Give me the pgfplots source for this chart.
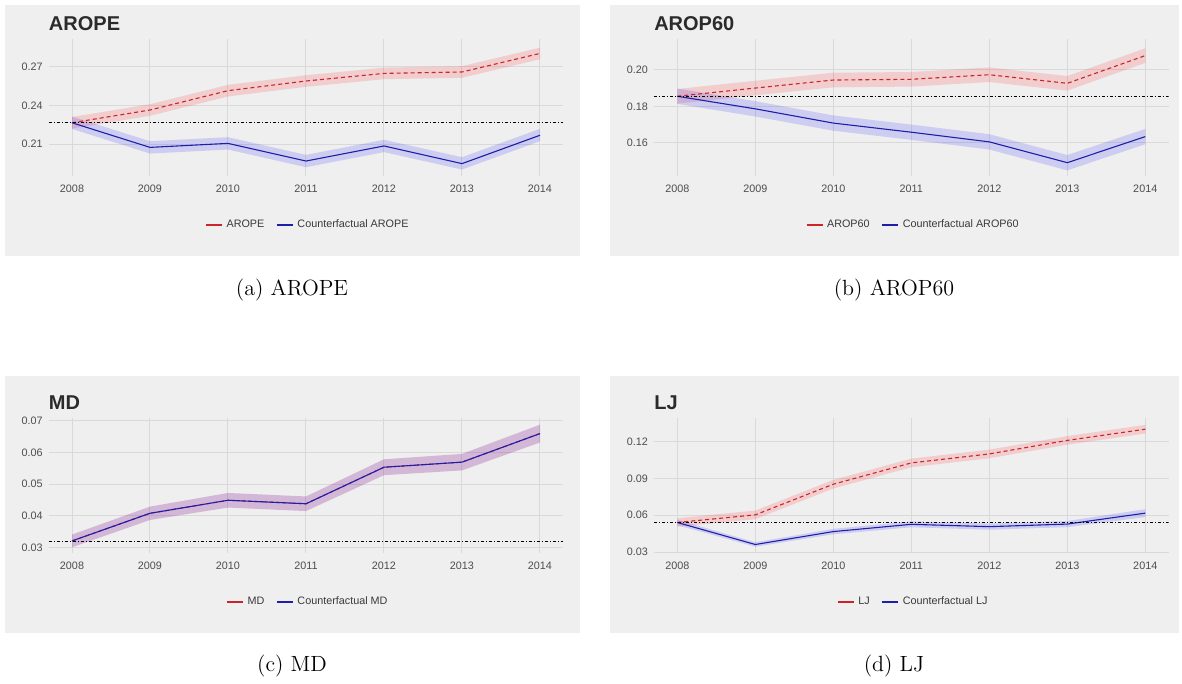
\documentclass[border=0pt]{standalone}
\usepackage{pgfplots}
\pgfplotsset{compat=1.18}
\usepackage{fontspec}
\newfontfamily\arial{Liberation Sans}

\definecolor{panelbg}{HTML}{EFEFEF}
\definecolor{gridc}{HTML}{D9D9D9}
\definecolor{ticktxt}{HTML}{4D4D4D}
\definecolor{legtxt}{HTML}{3A3A3A}
\definecolor{titletxt}{HTML}{2B2B2B}
\definecolor{linered}{RGB}{205,35,45}
\definecolor{lineblue}{RGB}{30,30,170}

\newcommand\smallsans{\arial\fontsize{5.4}{6.5}\selectfont}

\pgfplotsset{
  every axis title shift=0pt,
  panel/.style={
    scale only axis, anchor=south west,
    width=257.4pt,
    xmin=2007.7, xmax=2014.3,
    xtick={2008,...,2014},
    axis line style={draw=none},
    major tick length=0pt,
    grid=major,
    major grid style={gridc, line width=0.5pt},
    scaled ticks=false,
    tick label style={font=\smallsans, text=ticktxt},
    /pgf/number format/assume math mode=true,
    /pgf/number format/1000 sep={},
    yticklabel style={/pgf/number format/fixed, /pgf/number format/fixed zerofill,
      /pgf/number format/precision=2, anchor=east, inner sep=0pt, xshift=-2.8pt},
    xticklabel style={anchor=center, inner sep=0pt, yshift=-6.5pt},
    title style={at={(0,1)}, anchor=base west, yshift=4pt, inner sep=0pt,
      font=\arial\bfseries\fontsize{10}{12}\selectfont, text=titletxt},
    legend style={at={(0.5,0)}, anchor=center, yshift=-24.5pt, xshift=1.5pt,
      draw=none, fill=none, font=\smallsans, text=legtxt,
      legend columns=-1, inner sep=0pt,
      /tikz/every even column/.append style={column sep=4pt}},
    legend image code/.code={\draw[#1] (0pt,0pt) -- (8pt,0pt);},
  },
  redband/.style={draw=none, fill=red, fill opacity=0.14, forget plot},
  blueband/.style={draw=none, fill=blue, fill opacity=0.14, forget plot},
  redline/.style={linered, line width=0.55pt, dash pattern=on 2pt off 1.5pt, forget plot},
  blueline/.style={lineblue, line width=0.55pt, forget plot},
  refline/.style={black, line width=0.5pt, dash pattern=on 1.5pt off 1pt on 0.5pt off 1pt, forget plot},
}

\begin{document}
\begin{tikzpicture}

% panel backgrounds
\fill[panelbg] (2.5pt,214pt) rectangle (290pt,339.5pt);
\fill[panelbg] (305pt,214pt) rectangle (589.5pt,339.5pt);
\fill[panelbg] (2.5pt,25.5pt) rectangle (290pt,154pt);
\fill[panelbg] (305pt,25.5pt) rectangle (589.5pt,154pt);

% (a) AROPE
\begin{axis}[panel, at={(24.3pt,254pt)}, height=68.5pt,
  ymin=0.1852, ymax=0.2915, ytick={0.21,0.24,0.27}, title={AROPE}]
  \addplot[redband] coordinates {(2008,0.2310) (2009,0.2409) (2010,0.2559) (2011,0.2634) (2012,0.2693) (2013,0.2704) (2014,0.2848)
    (2014,0.2758) (2013,0.2614) (2012,0.2603) (2011,0.2544) (2010,0.2469) (2009,0.2319) (2008,0.2220)} -- cycle;
  \addplot[blueband] coordinates {(2008,0.2313) (2009,0.2122) (2010,0.2153) (2011,0.2016) (2012,0.2133) (2013,0.1998) (2014,0.2218)
    (2014,0.2122) (2013,0.1902) (2012,0.2037) (2011,0.1920) (2010,0.2057) (2009,0.2026) (2008,0.2217)} -- cycle;
  \addplot[redline] coordinates {(2008,0.2265) (2009,0.2364) (2010,0.2514) (2011,0.2589) (2012,0.2648) (2013,0.2659) (2014,0.2803)};
  \addplot[blueline] coordinates {(2008,0.2265) (2009,0.2074) (2010,0.2105) (2011,0.1968) (2012,0.2085) (2013,0.1948) (2014,0.2168)};
  \addplot[refline] coordinates {(2007.7,0.2265) (2014.3,0.2265)};
  \addlegendimage{linered, line width=0.55pt}
  \addlegendentry{AROPE}
  \addlegendimage{lineblue, line width=0.55pt}
  \addlegendentry{Counterfactual AROPE}
\end{axis}

% (b) AROP60
\begin{axis}[panel, at={(326.95pt,254pt)}, height=68.5pt,
  ymin=0.1419, ymax=0.2170, ytick={0.16,0.18,0.20}, title={AROP60}]
  \addplot[redband] coordinates {(2008,0.1896) (2009,0.1941) (2010,0.1985) (2011,0.1989) (2012,0.2014) (2013,0.1967) (2014,0.2119)
    (2014,0.2039) (2013,0.1887) (2012,0.1934) (2011,0.1909) (2010,0.1905) (2009,0.1861) (2008,0.1816)} -- cycle;
  \addplot[blueband] coordinates {(2008,0.1898) (2009,0.1829) (2010,0.1751) (2011,0.1701) (2012,0.1648) (2013,0.1534) (2014,0.1677)
    (2014,0.1593) (2013,0.1450) (2012,0.1564) (2011,0.1617) (2010,0.1667) (2009,0.1745) (2008,0.1814)} -- cycle;
  \addplot[redline] coordinates {(2008,0.1856) (2009,0.1901) (2010,0.1945) (2011,0.1949) (2012,0.1974) (2013,0.1927) (2014,0.2079)};
  \addplot[blueline] coordinates {(2008,0.1856) (2009,0.1787) (2010,0.1709) (2011,0.1659) (2012,0.1606) (2013,0.1492) (2014,0.1635)};
  \addplot[refline] coordinates {(2007.7,0.1856) (2014.3,0.1856)};
  \addlegendimage{linered, line width=0.55pt}
  \addlegendentry{AROP60}
  \addlegendimage{lineblue, line width=0.55pt}
  \addlegendentry{Counterfactual AROP60}
\end{axis}

% (c) MD
\begin{axis}[panel, at={(24.3pt,65.5pt)}, height=67.5pt,
  ymin=0.0283, ymax=0.0708, ytick={0.03,0.04,0.05,0.06,0.07}, title={MD}]
  \addplot[redband, fill opacity=0.12] coordinates {(2008,0.0341) (2009,0.0429) (2010,0.0472) (2011,0.0461) (2012,0.0578) (2013,0.0595) (2014,0.0687)
    (2014,0.0631) (2013,0.0543) (2012,0.0528) (2011,0.0415) (2010,0.0426) (2009,0.0387) (2008,0.0301)} -- cycle;
  \addplot[blueband, fill opacity=0.12] coordinates {(2008,0.0341) (2009,0.0429) (2010,0.0472) (2011,0.0461) (2012,0.0578) (2013,0.0595) (2014,0.0687)
    (2014,0.0631) (2013,0.0543) (2012,0.0528) (2011,0.0415) (2010,0.0426) (2009,0.0387) (2008,0.0301)} -- cycle;
  \addplot[redline] coordinates {(2008,0.0321) (2009,0.0408) (2010,0.0449) (2011,0.0438) (2012,0.0553) (2013,0.0569) (2014,0.0659)};
  \addplot[blueline] coordinates {(2008,0.0321) (2009,0.0408) (2010,0.0449) (2011,0.0438) (2012,0.0553) (2013,0.0569) (2014,0.0659)};
  \addplot[refline] coordinates {(2007.7,0.0320) (2014.3,0.0320)};
  \addlegendimage{linered, line width=0.55pt}
  \addlegendentry{MD}
  \addlegendimage{lineblue, line width=0.55pt}
  \addlegendentry{Counterfactual MD}
\end{axis}

% (d) LJ
\begin{axis}[panel, at={(326.95pt,65.5pt)}, height=67.5pt,
  ymin=0.0293, ymax=0.1390, ytick={0.03,0.06,0.09,0.12}, title={LJ}]
  \addplot[redband] coordinates {(2008,0.0576) (2009,0.0638) (2010,0.0887) (2011,0.1060) (2012,0.1133) (2013,0.1243) (2014,0.1334)
    (2014,0.1264) (2013,0.1173) (2012,0.1063) (2011,0.0990) (2010,0.0817) (2009,0.0568) (2008,0.0506)} -- cycle;
  \addplot[blueband] coordinates {(2008,0.0563) (2009,0.0380) (2010,0.0489) (2011,0.0550) (2012,0.0532) (2013,0.0553) (2014,0.0649)
    (2014,0.0585) (2013,0.0503) (2012,0.0482) (2011,0.0502) (2010,0.0445) (2009,0.0344) (2008,0.0519)} -- cycle;
  \addplot[redline] coordinates {(2008,0.0541) (2009,0.0603) (2010,0.0852) (2011,0.1025) (2012,0.1098) (2013,0.1208) (2014,0.1299)};
  \addplot[blueline] coordinates {(2008,0.0541) (2009,0.0362) (2010,0.0467) (2011,0.0526) (2012,0.0507) (2013,0.0528) (2014,0.0617)};
  \addplot[refline] coordinates {(2007.7,0.0541) (2014.3,0.0541)};
  \addlegendimage{linered, line width=0.55pt}
  \addlegendentry{LJ}
  \addlegendimage{lineblue, line width=0.55pt}
  \addlegendentry{Counterfactual LJ}
\end{axis}

% sub-captions
\node[anchor=base, font=\fontsize{11}{13}\selectfont, inner sep=0pt] at (146pt,194pt) {(a) AROPE};
\node[anchor=base, font=\fontsize{11}{13}\selectfont, inner sep=0pt] at (447pt,194pt) {(b) AROP60};
\node[anchor=base, font=\fontsize{11}{13}\selectfont, inner sep=0pt] at (146pt,6pt) {(c) MD};
\node[anchor=base, font=\fontsize{11}{13}\selectfont, inner sep=0pt] at (447pt,6pt) {(d) LJ};

\pgfresetboundingbox
\useasboundingbox (0pt,0pt) rectangle (591pt,342pt);
\end{tikzpicture}
\end{document}
